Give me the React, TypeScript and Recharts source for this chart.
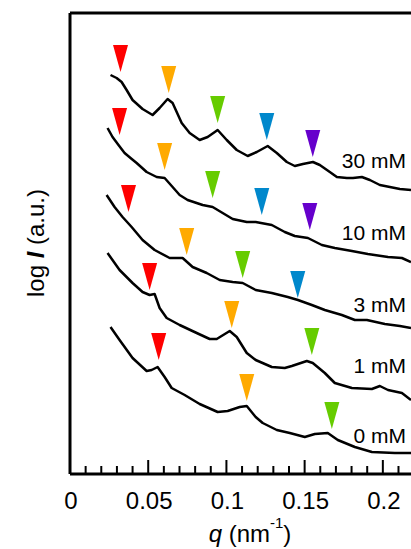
import {
  ComposedChart,
  Line,
  Scatter,
  XAxis,
  YAxis,
  ReferenceLine,
} from "recharts";

// scattering curves, q in nm^-1, log I offset per concentration
const curve30 = [
  { q: 0.0259, y: 3.99 }, { q: 0.0298, y: 3.96 }, { q: 0.033, y: 3.92 }, { q: 0.0362, y: 3.84 },
  { q: 0.04, y: 3.74 }, { q: 0.0464, y: 3.65 }, { q: 0.0528, y: 3.59 }, { q: 0.0573, y: 3.66 },
  { q: 0.0624, y: 3.75 }, { q: 0.0656, y: 3.71 }, { q: 0.0714, y: 3.51 }, { q: 0.0765, y: 3.41 },
  { q: 0.0829, y: 3.34 }, { q: 0.088, y: 3.37 }, { q: 0.0944, y: 3.44 }, { q: 0.1002, y: 3.34 },
  { q: 0.1066, y: 3.24 }, { q: 0.1136, y: 3.18 }, { q: 0.1194, y: 3.22 }, { q: 0.1264, y: 3.28 },
  { q: 0.1322, y: 3.21 }, { q: 0.1386, y: 3.12 }, { q: 0.1437, y: 3.08 }, { q: 0.1489, y: 3.1 },
  { q: 0.1553, y: 3.12 }, { q: 0.1597, y: 3.09 }, { q: 0.1661, y: 3.02 }, { q: 0.1706, y: 2.97 },
  { q: 0.177, y: 2.96 }, { q: 0.1809, y: 2.96 }, { q: 0.1866, y: 2.97 }, { q: 0.1917, y: 2.94 },
  { q: 0.1981, y: 2.89 }, { q: 0.2045, y: 2.87 }, { q: 0.2109, y: 2.85 }, { q: 0.218, y: 2.84 },
];

const curve10 = [
  { q: 0.024, y: 3.46 }, { q: 0.0272, y: 3.37 }, { q: 0.031, y: 3.29 }, { q: 0.0349, y: 3.21 },
  { q: 0.0387, y: 3.16 }, { q: 0.0426, y: 3.11 }, { q: 0.049, y: 3.02 }, { q: 0.0554, y: 2.97 },
  { q: 0.0605, y: 2.96 }, { q: 0.0656, y: 2.87 }, { q: 0.0701, y: 2.79 }, { q: 0.0752, y: 2.74 },
  { q: 0.0848, y: 2.69 }, { q: 0.0912, y: 2.67 }, { q: 0.0976, y: 2.61 }, { q: 0.104, y: 2.55 },
  { q: 0.113, y: 2.52 }, { q: 0.1187, y: 2.52 }, { q: 0.129, y: 2.49 }, { q: 0.1373, y: 2.42 },
  { q: 0.1437, y: 2.38 }, { q: 0.1521, y: 2.36 }, { q: 0.161, y: 2.29 }, { q: 0.1693, y: 2.26 },
  { q: 0.1802, y: 2.23 }, { q: 0.1904, y: 2.2 }, { q: 0.2033, y: 2.17 }, { q: 0.2122, y: 2.16 },
  { q: 0.218, y: 2.12 },
];

const curve3 = [
  { q: 0.0234, y: 2.79 }, { q: 0.0285, y: 2.67 }, { q: 0.0336, y: 2.57 }, { q: 0.0394, y: 2.47 },
  { q: 0.0464, y: 2.34 }, { q: 0.0541, y: 2.24 }, { q: 0.0637, y: 2.16 }, { q: 0.072, y: 2.16 },
  { q: 0.0784, y: 2.07 }, { q: 0.0874, y: 2.01 }, { q: 0.0957, y: 1.94 }, { q: 0.104, y: 1.92 },
  { q: 0.1104, y: 1.91 }, { q: 0.1187, y: 1.84 }, { q: 0.129, y: 1.81 }, { q: 0.1392, y: 1.77 },
  { q: 0.1457, y: 1.74 }, { q: 0.1546, y: 1.69 }, { q: 0.1629, y: 1.64 }, { q: 0.1738, y: 1.59 },
  { q: 0.1821, y: 1.54 }, { q: 0.1898, y: 1.54 }, { q: 0.2013, y: 1.5 }, { q: 0.2109, y: 1.48 },
  { q: 0.218, y: 1.46 },
];

const curve1 = [
  { q: 0.024, y: 2.21 }, { q: 0.0317, y: 2.04 }, { q: 0.04, y: 1.91 }, { q: 0.0464, y: 1.82 },
  { q: 0.0509, y: 1.79 }, { q: 0.0541, y: 1.8 }, { q: 0.0573, y: 1.66 }, { q: 0.0618, y: 1.56 },
  { q: 0.0701, y: 1.49 }, { q: 0.081, y: 1.41 }, { q: 0.0893, y: 1.35 }, { q: 0.0938, y: 1.35 },
  { q: 0.1021, y: 1.43 }, { q: 0.1066, y: 1.37 }, { q: 0.113, y: 1.21 }, { q: 0.1187, y: 1.14 },
  { q: 0.129, y: 1.07 }, { q: 0.1373, y: 1.06 }, { q: 0.1418, y: 1.08 }, { q: 0.1514, y: 1.13 },
  { q: 0.1552, y: 1.11 }, { q: 0.1629, y: 1.01 }, { q: 0.1693, y: 0.91 }, { q: 0.1802, y: 0.86 },
  { q: 0.193, y: 0.85 }, { q: 0.1981, y: 0.88 }, { q: 0.2033, y: 0.84 }, { q: 0.2122, y: 0.81 },
  { q: 0.218, y: 0.74 },
];

const curve0 = [
  { q: 0.0259, y: 1.47 }, { q: 0.0317, y: 1.34 }, { q: 0.04, y: 1.16 }, { q: 0.049, y: 1.03 },
  { q: 0.0522, y: 1.04 }, { q: 0.056, y: 1.07 }, { q: 0.0605, y: 0.97 }, { q: 0.065, y: 0.86 },
  { q: 0.0733, y: 0.79 }, { q: 0.0829, y: 0.7 }, { q: 0.0944, y: 0.62 }, { q: 0.1008, y: 0.63 },
  { q: 0.1085, y: 0.67 }, { q: 0.113, y: 0.68 }, { q: 0.1187, y: 0.57 }, { q: 0.1232, y: 0.51 },
  { q: 0.1322, y: 0.44 }, { q: 0.1405, y: 0.41 }, { q: 0.1501, y: 0.37 }, { q: 0.1565, y: 0.4 },
  { q: 0.1648, y: 0.41 }, { q: 0.1712, y: 0.34 }, { q: 0.1821, y: 0.27 }, { q: 0.193, y: 0.22 },
  { q: 0.2077, y: 0.21 }, { q: 0.218, y: 0.21 },
];

// peak markers (tip position)
const redMarks = [
  { q: 0.0323, y: 4.02 }, { q: 0.0317, y: 3.39 }, { q: 0.0374, y: 2.62 },
  { q: 0.0509, y: 1.84 }, { q: 0.0567, y: 1.14 },
];
const orangeMarks = [
  { q: 0.0631, y: 3.81 }, { q: 0.0605, y: 3.04 }, { q: 0.0746, y: 2.19 },
  { q: 0.1034, y: 1.46 }, { q: 0.113, y: 0.73 },
];
const greenMarks = [
  { q: 0.0944, y: 3.51 }, { q: 0.0912, y: 2.76 }, { q: 0.1104, y: 1.96 },
  { q: 0.1546, y: 1.19 }, { q: 0.1674, y: 0.45 },
];
const blueMarks = [
  { q: 0.1258, y: 3.34 }, { q: 0.1226, y: 2.59 }, { q: 0.1456, y: 1.76 },
];
const purpleMarks = [
  { q: 0.1552, y: 3.17 }, { q: 0.1533, y: 2.44 },
];

const curveLabels = [
  { q: 0.2148, y: 3.13, name: "30 mM" },
  { q: 0.2148, y: 2.41, name: "10 mM" },
  { q: 0.2148, y: 1.69, name: "3 mM" },
  { q: 0.2148, y: 1.08, name: "1 mM" },
  { q: 0.2148, y: 0.38, name: "0 mM" },
];

const qTicks = [
  0, 0.01, 0.02, 0.03, 0.04, 0.05, 0.06, 0.07, 0.08, 0.09, 0.1,
  0.11, 0.12, 0.13, 0.14, 0.15, 0.16, 0.17, 0.18, 0.19, 0.2, 0.21,
];
const qLabels = ["0", "0.05", "0.1", "0.15", "0.2"];

const font = "'Liberation Sans', Arial, sans-serif";

const QTick = (props: any) => {
  const { x, y, payload } = props;
  const v = payload.value;
  const idx = Math.round(v * 100);
  const major = idx % 5 === 0;
  return (
    <g>
      <line x1={x} x2={x} y1={y} y2={y - (major ? 14 : 8)} stroke="#000" strokeWidth={2} />
      {major && (
        <text
          x={x + 1}
          y={y + 35}
          textAnchor="middle"
          fontSize={24}
          fontFamily={font}
          fill="#000"
        >
          {qLabels[idx / 5]}
        </text>
      )}
    </g>
  );
};

const Triangle = (props: any) => {
  const { cx, cy, fill } = props;
  return (
    <polygon
      points={`${cx - 7.5},${cy - 27} ${cx + 7.5},${cy - 27} ${cx},${cy}`}
      fill={fill}
    />
  );
};

const CurveLabel = (props: any) => {
  const { cx, cy, payload } = props;
  return (
    <text
      x={cx}
      y={cy + 7}
      textAnchor="end"
      fontSize={21}
      fontFamily={font}
      fill="#000"
    >
      {payload?.name}
    </text>
  );
};

const marks = [
  { data: redMarks, color: "#ff0000" },
  { data: orangeMarks, color: "#ffaa00" },
  { data: greenMarks, color: "#66cc00" },
  { data: blueMarks, color: "#0088cc" },
  { data: purpleMarks, color: "#6600cc" },
];

const curves = [curve30, curve10, curve3, curve1, curve0];

const App = () => {
  return (
    <div style={{ position: "absolute", left: 0, top: 0, background: "#fff" }}>
      <ComposedChart
        width={411}
        height={549}
        margin={{ top: 13, right: 0, left: 70, bottom: 0 }}
      >
        <XAxis
          type="number"
          dataKey="q"
          domain={[0, 0.218]}
          allowDataOverflow
          ticks={qTicks}
          interval={0}
          tick={<QTick />}
          tickSize={0}
          tickMargin={0}
          tickLine={false}
          axisLine={{ stroke: "#000", strokeWidth: 3 }}
          height={75}
          label={{
            content: () => (
              <text x={250} y={542} textAnchor="middle" fontSize={24} fontFamily={font} fill="#000">
                <tspan fontStyle="italic">q</tspan> (nm
                <tspan dy={-14} fontSize={15}>-1</tspan>
                <tspan dy={14}>)</tspan>
              </text>
            ),
          }}
        />
        <YAxis
          type="number"
          dataKey="y"
          domain={[0, 4.61]}
          allowDataOverflow
          hide
        />
        <ReferenceLine y={4.61} stroke="#000" strokeWidth={3} />
        <ReferenceLine
          x={0}
          stroke="#000"
          strokeWidth={3}
          label={{
            content: () => (
              <text
                x={44}
                y={243}
                transform="rotate(-90 44 243)"
                textAnchor="middle"
                fontSize={24}
                fontFamily={font}
                fill="#000"
              >
                log <tspan fontWeight="bold" fontStyle="italic">I</tspan> (a.u.)
              </text>
            ),
          }}
        />
        {curves.map((c, i) => (
          <Line
            key={`curve-${i}`}
            data={c}
            dataKey="y"
            type="linear"
            stroke="#000"
            strokeWidth={2.5}
            strokeLinejoin="round"
            dot={false}
            activeDot={false}
            isAnimationActive={false}
          />
        ))}
        {marks.map((m, i) => (
          <Scatter
            key={`mark-${i}`}
            data={m.data}
            dataKey="y"
            fill={m.color}
            shape={<Triangle />}
            isAnimationActive={false}
          />
        ))}
        <Scatter
          data={curveLabels}
          dataKey="y"
          shape={<CurveLabel />}
          isAnimationActive={false}
        />
      </ComposedChart>
    </div>
  );
};

export default App;
